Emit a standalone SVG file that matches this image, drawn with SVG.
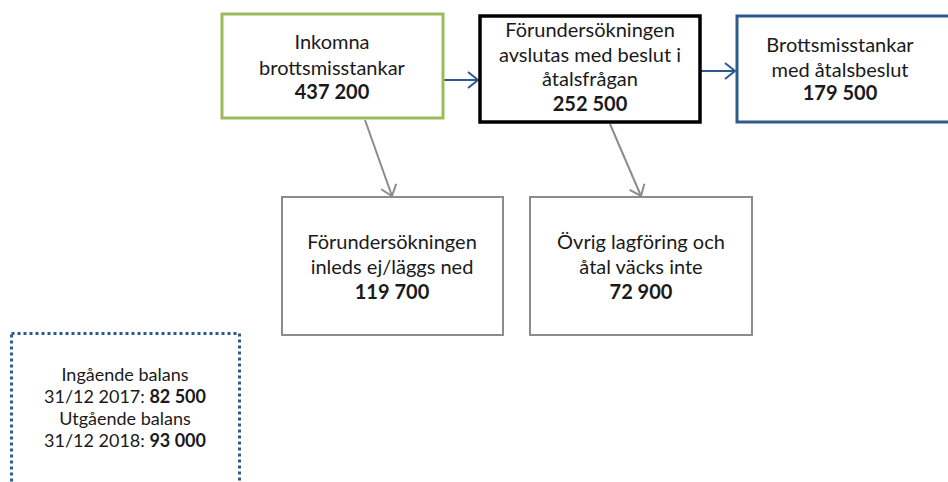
<svg xmlns="http://www.w3.org/2000/svg" width="948" height="482" viewBox="0 0 948 482">
<defs>
<style>
text{font-family:Lato,"Open Sans","Liberation Sans",sans-serif;font-size:20px;fill:#1a1a1a;text-anchor:middle}
.b{font-weight:bold}
.s{font-size:18px}
.box{fill:#fff}
</style>
<marker id="ab" viewBox="0 0 12 18" refX="11" refY="9" markerWidth="12" markerHeight="18" markerUnits="userSpaceOnUse" orient="auto"><path d="M1,1 L11,9 L1,17" fill="none" stroke="#2E5A8C" stroke-width="2"/></marker>
<marker id="ag" viewBox="0 0 12 18" refX="11" refY="9" markerWidth="12" markerHeight="18" markerUnits="userSpaceOnUse" orient="auto"><path d="M1,1 L11,9 L1,17" fill="none" stroke="#8c8c8c" stroke-width="2"/></marker>
</defs>
<rect width="948" height="482" fill="#fff"/>
<g id="connectors" fill="none">
<line x1="443" y1="80" x2="478" y2="80" stroke="#2E5A8C" stroke-width="2" marker-end="url(#ab)"/>
<line x1="700" y1="71" x2="735" y2="71" stroke="#2E5A8C" stroke-width="2" marker-end="url(#ab)"/>
<line x1="365" y1="120" x2="392" y2="196" stroke="#8c8c8c" stroke-width="2" marker-end="url(#ag)"/>
<line x1="610" y1="124" x2="641" y2="196" stroke="#8c8c8c" stroke-width="2" marker-end="url(#ag)"/>
</g>
<g id="inkomna">
<rect class="box" x="222" y="14" width="221" height="104" stroke="#9BBB59" stroke-width="3"/>
<text x="332" y="49">Inkomna</text>
<text x="332" y="75">brottsmisstankar</text>
<text x="332" y="99" class="b">437 200</text>
</g>
<g id="forundersokningen">
<rect class="box" x="480" y="16" width="220" height="106" stroke="#000" stroke-width="3.5"/>
<text x="590" y="37">Förundersökningen</text>
<text x="590" y="62">avslutas med beslut i</text>
<text x="590" y="86">åtalsfrågan</text>
<text x="590" y="111" class="b">252 500</text>
</g>
<g id="atalsbeslut">
<rect class="box" x="737" y="16" width="220" height="106" stroke="#2E5A8C" stroke-width="3"/>
<text x="840" y="52">Brottsmisstankar</text>
<text x="840" y="77">med åtalsbeslut</text>
<text x="840" y="100" class="b">179 500</text>
</g>
<g id="inleds-ej">
<rect class="box" x="282" y="197" width="221" height="138" stroke="#8c8c8c" stroke-width="2"/>
<text x="392" y="249">Förundersökningen</text>
<text x="392" y="274">inleds ej/läggs ned</text>
<text x="392" y="299" class="b">119 700</text>
</g>
<g id="ovrig">
<rect class="box" x="530" y="197" width="222" height="138" stroke="#8c8c8c" stroke-width="2"/>
<text x="641" y="249">Övrig lagföring och</text>
<text x="641" y="274">åtal väcks inte</text>
<text x="641" y="299" class="b">72 900</text>
</g>
<g id="balans">
<rect x="11.5" y="333.5" width="228" height="170" fill="none" stroke="#2E5A8C" stroke-width="3" stroke-dasharray="3 3"/>
<text class="s" x="125" y="381">Ingående balans</text>
<text class="s" x="125" y="403">31/12 2017: <tspan class="b">82 500</tspan></text>
<text class="s" x="125" y="425">Utgående balans</text>
<text class="s" x="125" y="447">31/12 2018: <tspan class="b">93 000</tspan></text>
</g>
</svg>
